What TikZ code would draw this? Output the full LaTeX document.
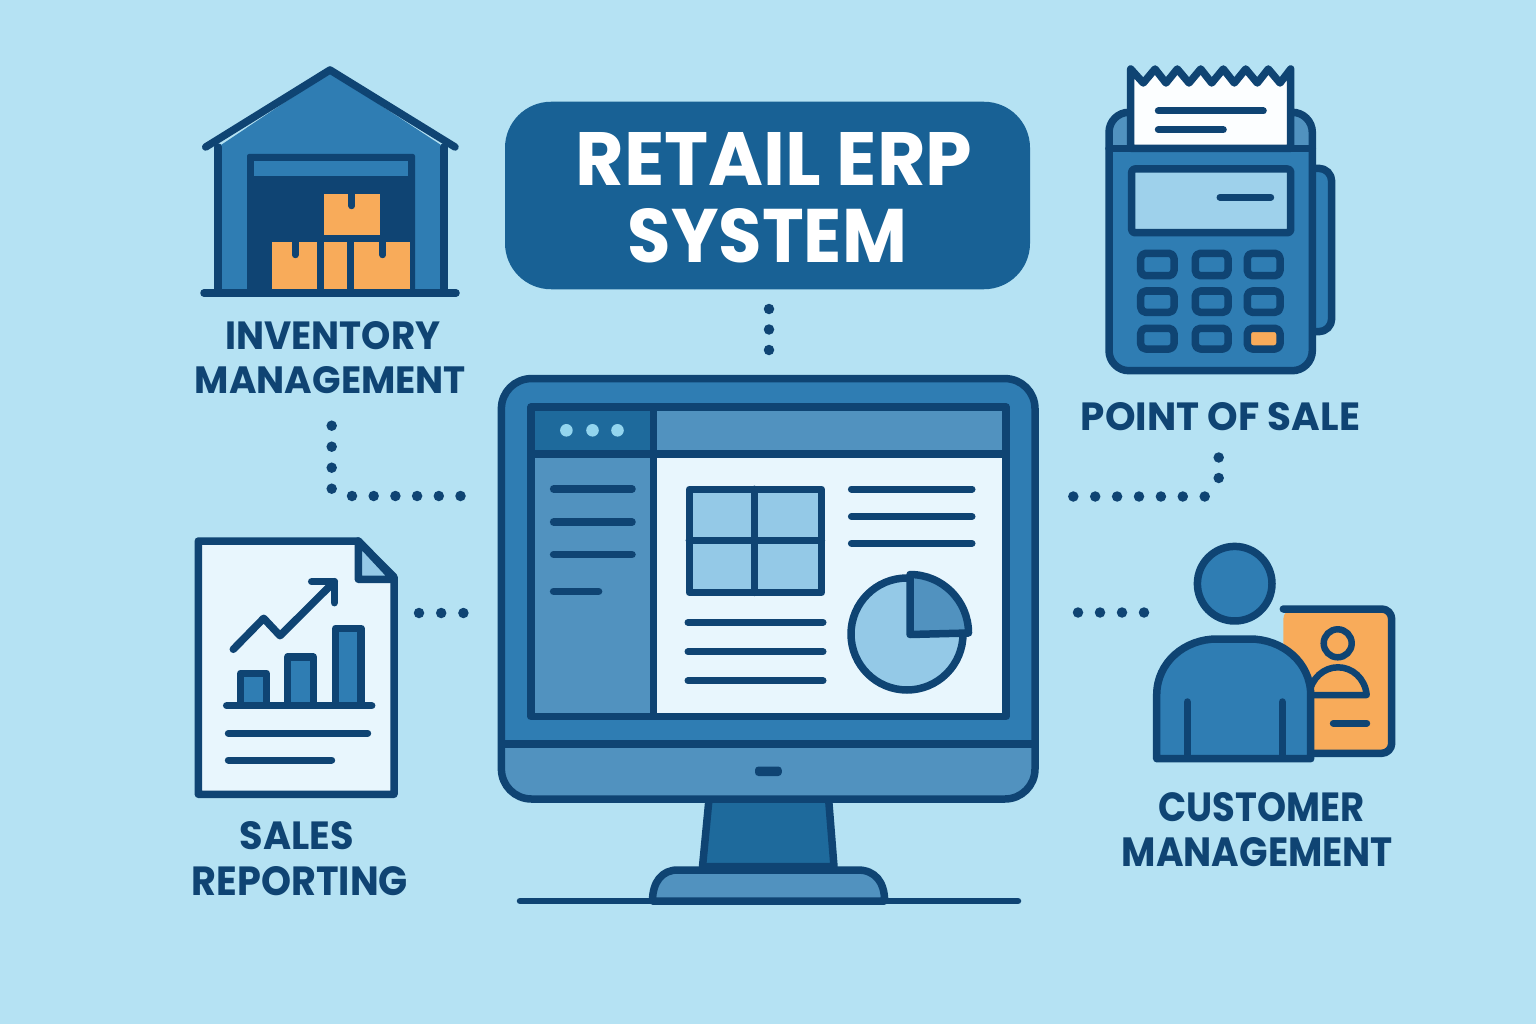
\documentclass[tikz,border=0pt]{standalone}
\usepackage{fontspec}
\setmainfont{Poppins}
\definecolor{bgc}{HTML}{B5E2F3}
\definecolor{ink}{HTML}{0F4473}
\definecolor{midb}{HTML}{2F7DB3}
\definecolor{lightb}{HTML}{5192BF}
\definecolor{titleb}{HTML}{186195}
\definecolor{standb}{HTML}{1E6A9C}
\definecolor{paper}{HTML}{E8F6FD}
\definecolor{panel}{HTML}{94C9E7}
\definecolor{orangec}{HTML}{F8AB5A}
\definecolor{dotc}{HTML}{93D5EE}
\newcommand{\fitw}[3]{\resizebox{#1pt}{#2pt}{\bfseries #3}}
\newcommand{\twolines}[3]{\vbox{\baselineskip=0pt \lineskiplimit=1000pt \lineskip=#1pt \tabskip=0pt \halign{\hfil##\hfil\cr #2\cr #3\cr}}}
\tikzset{
  ln/.style={draw=ink,line width=7.5pt,line join=round,line cap=round},
  thinln/.style={draw=ink,line width=7pt,line cap=round},
  conn/.style={draw=ink,line width=10.5pt,line cap=round,dash pattern=on 0pt off #1pt},
  lab/.style={text=ink,inner sep=0pt,outer sep=0pt},
  keyb/.style={ln,fill=midb,rounded corners=5pt},
}
\begin{document}
\begin{tikzpicture}[x=1pt,y=-1pt]
\useasboundingbox (0,0) rectangle (1536,1024);
\fill[bgc] (0,0) rectangle (1536,1024);

% ---------- Title
\node[fill=titleb,rounded corners=46pt,minimum width=525pt,minimum height=187.5pt,inner sep=0pt,text=white,anchor=center] (title) at (767.5,195.5) {};
\node[text=white,inner sep=0pt] (titletext) at (774,197.5) {\twolines{23}{\fitw{397}{53}{RETAIL ERP}}{\hspace{-13pt}\fitw{279}{54}{SYSTEM}}};

% ---------- Warehouse
\fill[midb] (218,147) -- (330,72) -- (444,147) -- (444,293) -- (218,293) -- cycle;
\fill[ink,rounded corners=2pt] (247,154) rectangle (415,293);
\fill[midb] (254,161) rectangle (408,176);
\fill[orangec] (324.3,194.3) rectangle (380,235.3);
\fill[orangec] (272.3,242.3) rectangle (317.3,289.3);
\fill[orangec] (324.3,242.3) rectangle (346.7,289.3);
\fill[orangec] (354.3,242.3) rectangle (409.7,289.3);
\draw[ink,line width=6.5pt,line cap=round] (351.7,192) -- (351.7,206);
\draw[ink,line width=6.5pt,line cap=round] (295.3,240) -- (295.3,255);
\draw[ink,line width=6.5pt,line cap=round] (382.7,240) -- (382.7,255);
\draw[ln] (218,147) -- (218,293);
\draw[ln] (444,147) -- (444,293);
\draw[ln] (205.7,147) -- (330,70) -- (455,147);
\draw[ln] (204,293) -- (456,293);
\node[lab] (invlabel) at (330.5,357.5) {\twolines{17.5}{\hspace{5pt}\fitw{215}{28}{INVENTORY}}{\fitw{271}{27}{MANAGEMENT}}};

% ---------- POS terminal
\draw[ln,fill=midb,rounded corners=13pt] (1305,168.3) -- (1331.7,168.3) -- (1331.7,331.7) -- (1305,331.7);
\fill[midb,rounded corners=20pt] (1109,112.3) rectangle (1312.3,370.7);
\begin{scope}
\clip (1100,100) rectangle (1320,148.3);
\fill[lightb,rounded corners=20pt] (1109,112.3) rectangle (1312.3,370.7);
\end{scope}
\draw[ln,rounded corners=20pt] (1109,112.3) rectangle (1312.3,370.7);
\draw[ln] (1109,148.3) -- (1312.3,148.3);
\draw[ln,fill=white!88!paper] (1130.7,148.3) -- (1130.7,69) -- (1143.3,83) -- (1155,69) -- (1166,83) -- (1177.3,69) -- (1189,83) -- (1200.7,69) -- (1211.7,83) -- (1223.3,69) -- (1234.3,83) -- (1245.7,69) -- (1257.3,83) -- (1268.3,69) -- (1280,83) -- (1290.7,69) -- (1290.7,148.3) -- cycle;
\draw[thinln] (1158.3,111) -- (1263.3,111);
\draw[thinln] (1158.3,129.7) -- (1223.3,129.7);
\draw[ln,fill=panel!70!bgc,rounded corners=3pt] (1131.7,169) rectangle (1290.7,232.7);
\draw[thinln] (1220,197.3) -- (1270.7,197.3);
\draw[keyb] (1140.7,253.3) rectangle (1174,275.7);
\draw[keyb] (1195.3,253.3) rectangle (1228,275.7);
\draw[keyb] (1247.3,253.3) rectangle (1280,275.7);
\draw[keyb] (1140.7,291) rectangle (1174,312.3);
\draw[keyb] (1195.3,291) rectangle (1228,312.3);
\draw[keyb] (1247.3,291) rectangle (1280,312.3);
\draw[keyb] (1140.7,328.3) rectangle (1174,349);
\draw[keyb] (1195.3,328.3) rectangle (1228,349);
\draw[keyb,fill=orangec] (1247.3,328.3) rectangle (1280,349);
\node[lab] (poslabel) at (1220.5,417) {\fitw{279}{28}{POINT OF SALE}};

% ---------- Sales report
\draw[ln,fill=paper] (198.3,541) -- (358.3,541) -- (394,577) -- (394,794.3) -- (198.3,794.3) -- cycle;
\draw[ln,fill=panel] (358.3,541) -- (358.3,579.3) -- (394,579.3) -- cycle;
\draw[ln] (233.3,649.3) -- (263.7,618.3) -- (280,635.7) -- (334.3,581.7);
\draw[ln] (311.7,581.7) -- (334.3,581.7) -- (334.3,602.7);
\draw[ln,fill=midb] (240.7,705.7) rectangle (266.3,673.3);
\draw[ln,fill=midb] (287.7,705.7) rectangle (313.3,657);
\draw[ln,fill=midb] (335.7,705.7) rectangle (361,628.3);
\draw[ln] (226.7,705.7) -- (371.7,705.7);
\draw[thinln] (228.3,733.3) -- (367.7,733.3);
\draw[thinln] (228.3,760) -- (331.7,760);
\node[lab] (saleslabel) at (300,858.5) {\twolines{16}{\hspace{-6pt}\fitw{114}{28}{SALES}}{\fitw{216}{29}{REPORTING}}};

% ---------- Customer
\fill[orangec,rounded corners=10pt] (1283.3,609) -- (1391.7,609) -- (1391.7,753.3) -- (1283.3,753.3) -- cycle;
\draw[ln,rounded corners=10pt] (1283.3,609) -- (1391.7,609) -- (1391.7,753.3) -- (1300,753.3);
\draw[draw=ink,line width=6.5pt] (1337.7,643.3) circle[radius=14];
\draw[ln,line width=6.5pt] (1366.7,695) .. controls (1365,678) and (1352,667.3) .. (1338,667.3) .. controls (1324,667.3) and (1311,678) .. (1309,695) -- cycle;
\draw[thinln] (1333.3,723.3) -- (1366.7,723.3);
\draw[ln,fill=midb] (1234.7,583.7) circle[radius=37.3];
\draw[ln,fill=midb] (1156.7,758.7) -- (1156.7,695) .. controls (1156.7,662) and (1185,639) .. (1216.7,639) -- (1250,639) .. controls (1282,639) and (1310.7,662) .. (1310.7,695) -- (1310.7,758.7) -- cycle;
\draw[ln] (1187.3,702) -- (1187.3,758);
\draw[ln] (1282.3,702) -- (1282.3,758);
\node[lab] (custlabel) at (1257.5,829.5) {\twolines{15}{\hspace{8pt}\fitw{206}{29}{CUSTOMER}}{\fitw{271}{29}{MANAGEMENT}}};

% ---------- Monitor
\draw[ln,fill=standb] (709,799) -- (828.6,799) -- (834,866.6) -- (702.5,866.6) -- cycle;
\draw[ln,fill=lightb] (652.5,901) .. controls (652.5,882) and (662,870) .. (677.5,870) -- (857.9,870) .. controls (875,870) and (884.6,882) .. (884.6,901) -- cycle;
\draw[draw=ink,line width=6.5pt,line cap=round] (520,901) -- (1018,901);
\fill[midb,rounded corners=30pt] (501.4,378.6) rectangle (1035,799);
\begin{scope}
\clip (490,744) rectangle (1050,810);
\fill[lightb,rounded corners=30pt] (501.4,378.6) rectangle (1035,799);
\end{scope}
\draw[draw=ink,line width=7.5pt,rounded corners=30pt] (501.4,378.6) rectangle (1035,799);
\draw[draw=ink,line width=7.5pt] (501.4,744) -- (1035,744);
\fill[ink,rounded corners=3.5pt] (755,766.5) rectangle (781.8,776);
% screen
\fill[paper] (531,407) rectangle (1006,716.5);
\fill[standb] (531,407) rectangle (653.6,454);
\fill[lightb] (653.6,407) rectangle (1006,454);
\fill[lightb] (531,454) rectangle (653.6,716.5);
\draw[ln] (531,407) rectangle (1006,716.5);
\draw[ln,line cap=butt] (653.6,407) -- (653.6,716.5);
\draw[ln,line cap=butt] (531,454) -- (1006,454);
\fill[dotc] (566.4,430.3) circle[radius=6.3];
\fill[dotc] (592.5,430.3) circle[radius=6.3];
\fill[dotc] (617.5,430.3) circle[radius=6.3];
\draw[ln] (553.6,489) -- (632,489);
\draw[ln] (553.6,522) -- (632,522);
\draw[ln] (553.6,554.5) -- (632,554.5);
\draw[ln] (553.6,591.4) -- (598.6,591.4);
\draw[ln,fill=panel] (689.3,489.3) rectangle (821.4,592.4);
\draw[ln] (754.3,489.3) -- (754.3,592.4);
\draw[ln] (689.3,540.3) -- (821.4,540.3);
\draw[thinln] (851.4,489) -- (972,489);
\draw[thinln] (851.4,516.6) -- (972,516.6);
\draw[thinln] (851.4,543.4) -- (972,543.4);
\draw[thinln] (688,622.4) -- (823,622.4);
\draw[thinln] (688,651.7) -- (823,651.7);
\draw[thinln] (688,680.7) -- (823,680.7);
\draw[ln,fill=panel] (907,634) circle[radius=56];
\draw[ln,fill=lightb] (910,634.5) -- (910,574.5) arc[start angle=-90,end angle=0,radius=58.5] -- cycle;

% ---------- Dotted connectors
\coordinate (cTitleA) at (769,309);
\coordinate (cTitleB) at (769,351);
\coordinate (cInvA) at (331.7,425.7);
\coordinate (cInvB) at (331.7,489);
\coordinate (cInvC) at (352,496);
\coordinate (cInvD) at (461,496);
\coordinate (cPosA) at (1073.3,496.5);
\coordinate (cPosB) at (1205,496.5);
\coordinate (cPosC) at (1218.7,478);
\coordinate (cPosD) at (1218.7,457);
\coordinate (cSalesA) at (419,613);
\coordinate (cSalesB) at (464,613);
\coordinate (cCustA) at (1078,612.5);
\coordinate (cCustB) at (1145,612.5);
\draw[conn=20.5] (cTitleA) -- (cTitleB);
\draw[conn=21] (cInvA) -- (cInvB);
\draw[conn=21.7] (cInvC) -- (cInvD);
\draw[conn=21.9] (cPosA) -- (cPosB);
\draw[conn=20.5] (cPosC) -- (cPosD);
\draw[conn=22.2] (cSalesA) -- (cSalesB);
\draw[conn=22] (cCustA) -- (cCustB);
\end{tikzpicture}
\end{document}
